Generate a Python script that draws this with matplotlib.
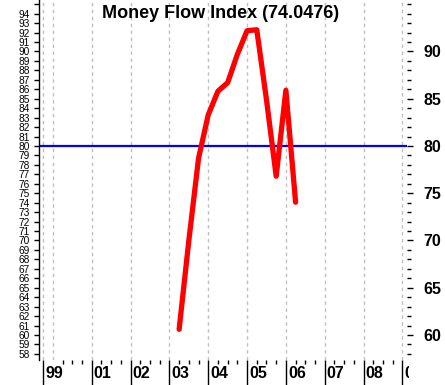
import matplotlib
matplotlib.use('Agg')
import matplotlib.pyplot as plt
from matplotlib.transforms import offset_copy, Bbox, TransformedBbox

plt.rcParams['font.family'] = ['Liberation Sans', 'DejaVu Sans']

# Quarterly Money Flow Index readings
quarters = [2003.25, 2003.5, 2003.75, 2004.0, 2004.25, 2004.5, 2004.75,
            2005.0, 2005.25, 2005.5, 2005.75, 2006.0, 2006.25]
mfi = [60.6, 70.0, 78.7, 83.3, 85.8, 86.7, 89.7,
       92.2, 92.3, 84.9, 76.8, 85.9, 74.0476]
last_value = 74.0476
threshold = 80

# x axis year marks and labels
year_pos = [1999.75, 2001, 2002, 2003, 2004, 2005, 2006, 2007, 2008, 2009]
year_labels = ['99', '01', '02', '03', '04', '05', '06', '07', '08', '09']
grid_pos = [1999.75, 2000, 2001, 2002, 2003, 2004, 2005, 2006, 2007, 2008, 2009]

fig = plt.figure(figsize=(4.45, 3.85), dpi=100)
ax = fig.add_axes([39 / 445, 25 / 385, 368 / 445, 360 / 385])
ax.set_xlim(1999.64, 2009.12)
ax.set_ylim(57.35, 95.45)

for s in ['top', 'right', 'bottom']:
    ax.spines[s].set_visible(False)
ax.spines['left'].set_linewidth(1)

# vertical dashed grid
for g in grid_pos:
    ax.axvline(g, color='#c0c0c0', lw=1, ls=(0, (2.5, 2.5)), zorder=1)

ax.axhline(threshold, color='blue', lw=1.6, zorder=2)
ax.plot(quarters, mfi, color='red', lw=3.8, solid_joinstyle='round',
        solid_capstyle='round', zorder=3)

# left axis: every integer
ax.set_yticks(range(58, 96))
ax.set_yticklabels([str(v) if v <= 94 else '' for v in range(58, 96)])
ax.tick_params(axis='y', length=3.6, width=1, pad=2.8, labelsize=7.3)

# x axis ticks
ax.set_xticks(year_pos)
ax.set_xticklabels([])
minor = [y + q for y in range(2000, 2009) for q in (0.25, 0.5, 0.75)]
ax.set_xticks(minor, minor=True)
ax.tick_params(axis='x', which='major', length=18, width=1, labelbottom=False)
ax.tick_params(axis='x', which='minor', length=3, width=1)

# year labels; the last one is cut at the plot's right edge
clip = TransformedBbox(Bbox([[0, 0], [409 / 445, 1]]), fig.transFigure)
trans = offset_copy(ax.get_xaxis_transform(), fig=fig, x=2, y=-14, units='dots')
for p, lab in zip(year_pos, year_labels):
    t = ax.text(p, 0, lab, transform=trans, ha='left', va='center',
                fontsize=11.5, fontweight='bold', clip_on=False)
    t.set_clip_box(clip)
    t.set_clip_on(True)

# right axis: labels every 5
ax2 = ax.twinx()
ax2.set_ylim(ax.get_ylim())
for s in ax2.spines.values():
    s.set_visible(False)
ax2.set_yticks(range(60, 95, 5))
ax2.set_yticks(range(58, 96), minor=True)
ax2.tick_params(axis='y', which='major', length=4.5, width=1, pad=7.5,
                labelsize=11.5)
ax2.tick_params(axis='y', which='minor', length=2.8, width=1)
for lab in ax2.get_yticklabels():
    lab.set_fontweight('bold')

fig.text(221 / 445, 1 - 13 / 385, f'Money Flow Index ({last_value})',
         ha='center', va='center', fontsize=13, fontweight='bold', zorder=5)

fig.savefig('out.png', dpi=100)
